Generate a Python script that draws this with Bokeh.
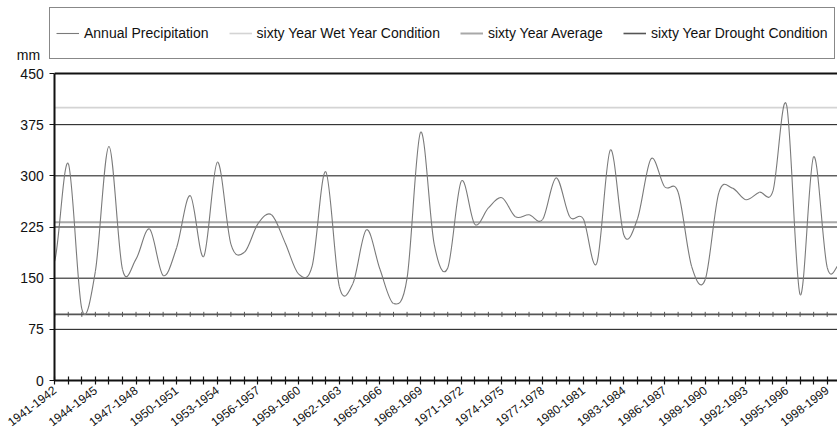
from bokeh.plotting import figure
from bokeh.models import Range1d, FixedTicker, Legend, LegendItem, Label, LinearAxis
from bokeh.embed import file_html
from bokeh.resources import INLINE

years = ["1941-1942", "1942-1943", "1943-1944", "1944-1945", "1945-1946", "1946-1947",
         "1947-1948", "1948-1949", "1949-1950", "1950-1951", "1951-1952", "1952-1953",
         "1953-1954", "1954-1955", "1955-1956", "1956-1957", "1957-1958", "1958-1959",
         "1959-1960", "1960-1961", "1961-1962", "1962-1963", "1963-1964", "1964-1965",
         "1965-1966", "1966-1967", "1967-1968", "1968-1969", "1969-1970", "1970-1971",
         "1971-1972", "1972-1973", "1973-1974", "1974-1975", "1975-1976", "1976-1977",
         "1977-1978", "1978-1979", "1979-1980", "1980-1981", "1981-1982", "1982-1983",
         "1983-1984", "1984-1985", "1985-1986", "1986-1987", "1987-1988", "1988-1989",
         "1989-1990", "1990-1991", "1991-1992", "1992-1993", "1993-1994", "1994-1995",
         "1995-1996", "1996-1997", "1997-1998", "1998-1999", "1999-2000"]
labeled_years = ["1941-1942", "1944-1945", "1947-1948", "1950-1951", "1953-1954",
                 "1956-1957", "1959-1960", "1962-1963", "1965-1966", "1968-1969",
                 "1971-1972", "1974-1975", "1977-1978", "1980-1981", "1983-1984",
                 "1986-1987", "1989-1990", "1992-1993", "1995-1996", "1998-1999"]
precip = [175, 318, 105, 160, 343, 163, 178, 222, 154, 195,
          271, 182, 320, 200, 188, 230, 243, 202, 156, 168,
          306, 138, 142, 221, 163, 113, 150, 364, 200, 165,
          292, 229, 253, 268, 240, 243, 236, 297, 240, 237,
          172, 338, 213, 237, 325, 284, 276, 167, 148, 275,
          282, 265, 276, 278, 404, 126, 328, 166, 173]
wet_value = 400
average_value = 232
drought_value = 97
y_ticks = [0, 75, 150, 225, 300, 375, 450]

n = len(precip)
xs = list(range(n))
wet = [wet_value] * n
average = [average_value] * n
drought = [drought_value] * n

# smooth (Excel-style) curve: cubic Bezier segments through the data points
x0, y0, x1, y1, cx0, cy0, cx1, cy1 = [], [], [], [], [], [], [], []
for i in range(n - 1):
    prev_v = precip[i - 1] if i > 0 else precip[i]
    next_v = precip[i + 2] if i + 2 < n else precip[i + 1]
    x0.append(xs[i]); y0.append(precip[i])
    x1.append(xs[i + 1]); y1.append(precip[i + 1])
    cx0.append(xs[i] + 1 / 3); cy0.append(precip[i] + (precip[i + 1] - prev_v) / 6)
    cx1.append(xs[i + 1] - 1 / 3); cy1.append(precip[i + 1] - (next_v - precip[i]) / 6)

FONT = "Liberation Sans"
FRAME_W = 837
FRAME_H = 388
X_START, X_END = -4.0, 57.76
Y_START, Y_END = -11.7, 557.0
INK = "#111111"

p = figure(frame_width=FRAME_W, frame_height=FRAME_H, output_backend="svg",
           toolbar_location=None,
           x_range=Range1d(X_START, X_END), y_range=Range1d(Y_START, Y_END),
           min_border_left=0, min_border_right=0, min_border_top=0, min_border_bottom=0)
p.outline_line_color = None
p.background_fill_color = "white"
p.xgrid.visible = False
p.ygrid.visible = False

# horizontal gridlines, from the y axis to the right edge
grid_x0 = [0] * len(y_ticks)
grid_x1 = [X_END + 1] * len(y_ticks)
grid_w = [2 if t == y_ticks[-1] else 1 for t in y_ticks]
p.segment(x0=grid_x0, y0=y_ticks, x1=grid_x1, y1=y_ticks, line_color=INK, line_width=grid_w)

r_wet = p.line(xs, wet, line_color="#d4d4d4", line_width=1.6)
r_avg = p.line(xs, average, line_color="#a8a8a8", line_width=2)
r_dr = p.line(xs, drought, line_color="#555555", line_width=1.6)
p.scatter(xs, drought, marker="dash", angle=1.5708, size=5, line_color="#555555", line_width=1)
r_pr = p.bezier(x0=x0, y0=y0, x1=x1, y1=y1, cx0=cx0, cy0=cy0, cx1=cx1, cy1=cy1,
                line_color="#7a7a7a", line_width=1.1)

# y axis, fixed at the first category
p.yaxis.fixed_location = 0
p.yaxis.bounds = (0, y_ticks[-1])
p.yaxis.ticker = FixedTicker(ticks=y_ticks)
p.yaxis.major_tick_in = 0
p.yaxis.major_tick_out = 5
p.yaxis.major_label_standoff = 6
p.yaxis.major_label_text_font_size = "14px"

# x axis at zero: a tick at every year, no text
p.xaxis.fixed_location = 0
p.xaxis.bounds = (0, X_END + 1)
p.xaxis.ticker = FixedTicker(ticks=xs)
p.xaxis.major_label_overrides = {i: "" for i in xs}
p.xaxis.major_tick_in = 4
p.xaxis.major_tick_out = 4

for ax in (p.xaxis, p.yaxis):
    ax.axis_line_color = INK
    ax.axis_line_width = 2
    ax.major_tick_line_color = INK
    ax.major_tick_line_width = 1.2
    ax.minor_tick_line_color = None
    ax.major_label_text_font = FONT
    ax.major_label_text_color = INK

# rotated year labels, every third year
label_pos = [xs[i] for i in xs if years[i] in labeled_years]
label_text = {xs[i]: years[i] for i in xs if years[i] in labeled_years}
label_axis = LinearAxis(ticker=FixedTicker(ticks=label_pos),
                        major_label_overrides=label_text,
                        major_label_orientation=0.65, major_label_standoff=0,
                        major_tick_in=0, major_tick_out=0, axis_line_color=None,
                        major_tick_line_color=None, minor_tick_line_color=None,
                        major_label_text_font=FONT, major_label_text_font_size="12px",
                        major_label_text_color=INK)
p.add_layout(label_axis, "below")

p.add_layout(Label(x=28, y=y_ticks[-1], x_units="screen", y_units="data", y_offset=19,
                   text="mm", text_align="center", text_baseline="alphabetic",
                   text_font=FONT, text_font_size="14px", text_color=INK))

legend = Legend(items=[
    LegendItem(label="Annual Precipitation", renderers=[r_pr]),
    LegendItem(label="sixty Year Wet Year Condition", renderers=[r_wet]),
    LegendItem(label="sixty Year Average", renderers=[r_avg]),
    LegendItem(label="sixty Year Drought Condition", renderers=[r_dr]),
], orientation="horizontal", location=(49, FRAME_H - 59), margin=0, padding=6, spacing=20,
    glyph_width=23, glyph_height=38, label_height=38, label_standoff=5,
    label_text_font=FONT, label_text_font_size="14px", label_text_color=INK,
    border_line_color=INK, border_line_width=1.5, background_fill_alpha=1)
p.add_layout(legend, "center")

open("out.html", "w").write(file_html(p, INLINE))
